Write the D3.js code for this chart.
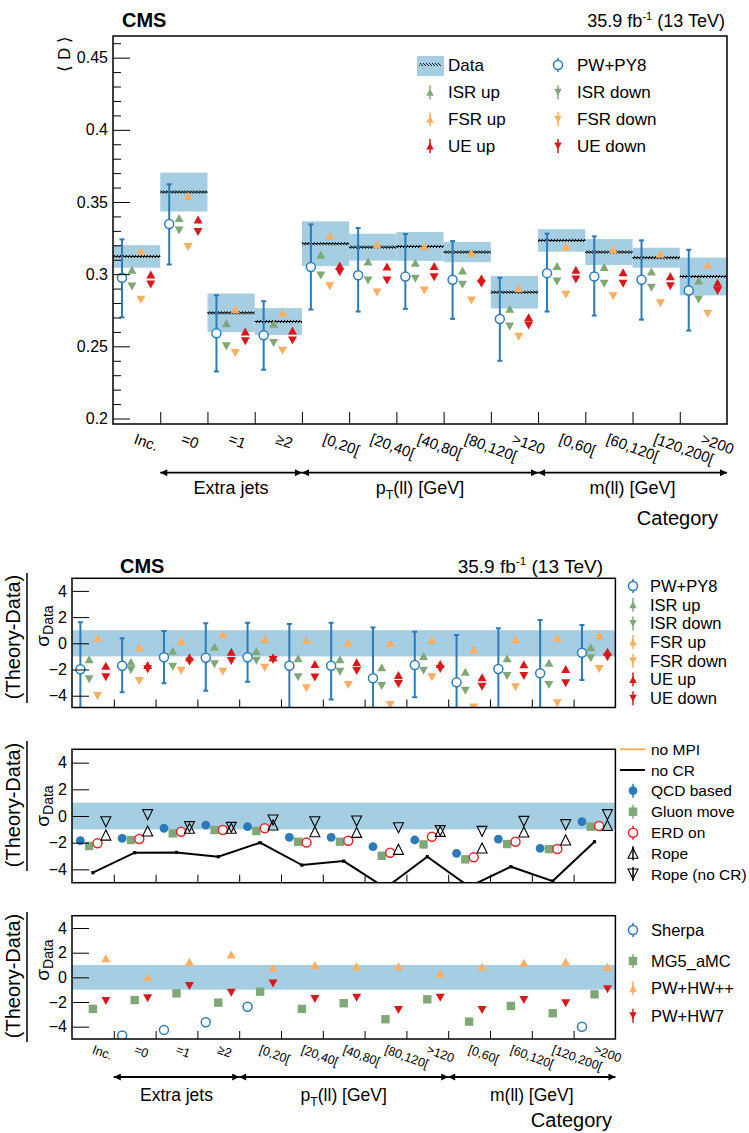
<!DOCTYPE html>
<html><head><meta charset="utf-8">
<script src="https://cdn.jsdelivr.net/npm/d3@7"></script>
<style>
body{margin:0;background:#fff}
svg{display:block;font-family:"Liberation Sans",Arial,Helvetica,sans-serif}
</style>
</head><body>
<svg id="chart" width="749" height="1133"></svg>
<script>
// ---------------- DATA ----------------
const categories = ["Inc.","=0","=1","≥2","[0,20[","[20,40[","[40,80[","[80,120[",">120","[0,60[","[60,120[","[120,200[",">200"];
const groupNames = ["Extra jets","pT(ll) [GeV]","m(ll) [GeV]"];
const groupFirst = [1,4,9];
const groupLast = [3,8,12];
const topTicks = [0.2,0.25,0.3,0.35,0.4,0.45];
const ratioTicks = [-4,-2,0,2,4];

// top panel: <D>
const dataMean = [0.3123,0.3569,0.2732,0.2672,0.3211,0.3187,0.3192,0.3153,0.2875,0.3234,0.3153,0.3114,0.2984];
const dataErr  = [0.0078,0.0135,0.0134,0.0093,0.0155,0.0093,0.0100,0.0070,0.0113,0.0078,0.0090,0.0069,0.0131];
const pwpy8    = [0.2975,0.3347,0.2590,0.2576,0.3049,0.2993,0.2983,0.2961,0.2690,0.3007,0.2984,0.2961,0.2887];
const pwpy8Lo  = [0.2701,0.3067,0.2326,0.2338,0.2755,0.2741,0.2760,0.2690,0.2400,0.2741,0.2713,0.2685,0.2609];
const pwpy8Hi  = [0.3241,0.3623,0.2854,0.2813,0.3345,0.3320,0.3278,0.3229,0.2975,0.3281,0.3262,0.3234,0.3169];
const isrUp    = [0.3031,0.3389,0.2660,0.2656,0.3135,0.3088,0.3079,0.3026,0.2760,0.3056,0.3049,0.3019,0.2956];
const isrDown  = [0.2915,0.3303,0.2500,0.2524,0.2991,0.2956,0.2968,0.2926,0.2637,0.2949,0.2933,0.2906,0.2824];
const fsrUp    = [0.3160,0.3542,0.2757,0.2732,0.3264,0.3206,0.3195,0.3149,0.2903,0.3192,0.3172,0.3142,0.3065];
const fsrDown  = [0.2822,0.3188,0.2454,0.2470,0.2917,0.2873,0.2887,0.2817,0.2567,0.2857,0.2847,0.2799,0.2725];
const ueUp     = [0.2998,0.3378,0.2602,0.2609,0.3060,0.3053,0.3056,0.2972,0.2701,0.3031,0.3014,0.2986,0.2940];
const ueDown   = [0.2928,0.3292,0.2535,0.2540,0.3014,0.2956,0.2979,0.2933,0.2644,0.2963,0.2933,0.2917,0.2884];

// ratio panel 1: (Theory-Data)/sigma
const r1Pw      = [-1.98,-1.71,-1.07,-1.10,-1.07,-1.71,-1.71,-2.67,-1.66,-2.98,-1.96,-2.29,-0.72];
const r1PwHi    = [1.60,0.38,0.94,1.53,1.57,1.47,1.57,1.20,0.89,0.63,1.15,1.78,1.40];
const r1PwLo    = [-5.56,-3.74,-3.05,-3.62,-2.93,-5.20,-4.28,-6.50,-4.12,-6.60,-5.30,-6.40,-2.80];
const r1IsrUp   = [-1.22,-1.40,-0.56,-0.26,-0.59,-1.15,-1.22,-1.83,-0.97,-2.17,-1.15,-1.48,-0.31];
const r1IsrDown = [-2.75,-2.04,-1.79,-1.60,-1.33,-2.60,-2.17,-3.26,-2.09,-3.62,-2.50,-3.18,-1.15];
const r1FsrUp   = [0.43,-0.31,0.18,0.69,0.33,0.25,0.05,0.05,0.25,-0.46,0.31,0.43,0.63];
const r1FsrDown = [-4.02,-2.88,-2.09,-2.17,-1.86,-3.44,-3.18,-4.70,-2.60,-4.90,-3.36,-4.58,-1.96];
const r1UeUp    = [-1.71,-1.66,-1.07,-0.64,-1.07,-1.58,-1.45,-2.42,-1.58,-2.60,-1.60,-1.96,-0.64];
const r1UeDown  = [-2.60,-1.98,-1.40,-1.35,-1.27,-2.62,-2.12,-3.10,-1.96,-3.31,-2.50,-3.05,-1.07];

// ratio panel 2: colour reconnection models
const r2Qcd      = [-1.85,-1.67,-0.92,-0.68,-0.80,-1.60,-1.60,-2.30,-1.80,-2.80,-1.73,-2.42,-0.43];
const r2Gluon    = [-2.25,-1.80,-1.30,-1.05,-1.13,-1.93,-1.93,-2.98,-2.13,-3.25,-2.10,-2.48,-0.80];
const r2Erd      = [-2.05,-1.73,-1.18,-1.05,-0.92,-1.98,-1.85,-2.75,-1.55,-3.10,-1.93,-2.48,-0.75];
const r2Rope     = [-1.43,-1.13,-0.92,-0.92,-0.68,-1.18,-1.23,-2.50,-1.15,-2.40,-1.20,-1.80,-0.70];
const r2RopeNoCR = [-0.43,0.10,-0.80,-0.85,-0.30,-0.43,-0.38,-0.88,-1.10,-1.15,-0.40,-0.65,0.10];
const r2NoCR     = [-4.25,-2.75,-2.73,-3.05,-2.00,-3.68,-3.38,-5.40,-3.05,-5.30,-3.80,-4.88,-1.93];

// ratio panel 3: other generators (null = off scale)
const r3Sherpa = [null,-4.72,-4.26,-3.64,-2.38,null,null,null,null,null,null,null,-4.00];
const r3Mg5    = [-2.56,-1.84,-1.30,-2.05,-1.16,-2.56,-2.10,-3.40,-1.78,-3.59,-2.32,-2.91,-1.38];
const r3Hwpp   = [1.54,0.05,1.26,1.86,0.78,1.00,0.91,0.91,0.32,0.86,1.18,1.26,0.86];
const r3Hw7    = [-1.92,-1.70,-0.70,-1.24,-0.49,-1.76,-1.65,-2.65,-1.65,-2.65,-1.84,-2.10,-0.97];

// ---------------- STYLE ----------------
const col = {blue:"#2b7bba", box:"#a6cee3", green:"#80a877", orange:"#fdae61", red:"#d7191c", erd:"#e3262a"};
const svg = d3.select("#chart");
const defs = svg.append("defs");
const hp = defs.append("pattern").attr("id","hatch").attr("patternUnits","userSpaceOnUse").attr("width",3).attr("height",3);
hp.append("path").attr("d","M0,0L3,3M-1,2L1,4M2,-1L4,1").attr("stroke","#000").attr("stroke-width",0.9);
defs.append("marker").attr("id","arr").attr("viewBox","0 0 10 10").attr("refX",10).attr("refY",5)
  .attr("markerWidth",9).attr("markerHeight",7).attr("markerUnits","userSpaceOnUse")
  .attr("orient","auto-start-reverse").append("path").attr("d","M0,0L10,5L0,10Z").attr("fill","#000");

function triPath(w,h,up){
  return up ? `M${-w/2},${h/2}L${w/2},${h/2}L0,${-h/2}Z` : `M${-w/2},${-h/2}L${w/2},${-h/2}L0,${h/2}Z`;
}
function drawMark(g,type,x,y,c){
  if(type==="up"||type==="down"){
    g.append("path").attr("transform",`translate(${x},${y})`).attr("d",triPath(9,8,type==="up")).attr("fill",c);
  } else if(type==="oup"||type==="odown"){
    g.append("path").attr("transform",`translate(${x},${y})`).attr("d",triPath(10,10,type==="oup")).attr("fill","none").attr("stroke",c).attr("stroke-width",1.1);
  } else if(type==="open"){
    g.append("circle").attr("cx",x).attr("cy",y).attr("r",4.5).attr("fill","#fff").attr("stroke",c).attr("stroke-width",1.5);
  } else if(type==="dot"){
    g.append("circle").attr("cx",x).attr("cy",y).attr("r",4.4).attr("fill",c);
  } else if(type==="sq"){
    g.append("rect").attr("x",x-4.2).attr("y",y-4.2).attr("width",8.4).attr("height",8.4).attr("fill",c);
  }
}
function series(g,xs,ys,vals,frac,type,c){
  const bw = xs.bandwidth();
  vals.forEach((v,i)=>{ if(v===null) return; drawMark(g,type,xs(categories[i])+frac*bw,ys(v),c); });
}
function errBars(g,xs,ys,lo,hi,frac,c){
  const bw = xs.bandwidth();
  categories.forEach((cat,i)=>{
    const x = xs(cat)+frac*bw;
    g.append("line").attr("x1",x).attr("x2",x).attr("y1",ys(lo[i])).attr("y2",ys(hi[i])).attr("stroke",c).attr("stroke-width",2);
    [lo[i],hi[i]].forEach(v=>g.append("line").attr("x1",x-2.5).attr("x2",x+2.5).attr("y1",ys(v)).attr("y2",ys(v)).attr("stroke",c).attr("stroke-width",2));
  });
}
function lumi(x,y,size){
  const t = svg.append("text").attr("x",x).attr("y",y).attr("text-anchor","end").attr("font-size",size);
  t.append("tspan").text("35.9 fb");
  t.append("tspan").attr("dy",-size*0.4).attr("font-size",size*0.62).text("-1");
  t.append("tspan").attr("dy",size*0.4).text(" (13 TeV)");
}
function cms(x,y,size){ svg.append("text").attr("x",x).attr("y",y).attr("font-size",size).attr("font-weight","bold").text("CMS"); }
function legendItem(g,x,tx,y,type,c,label,size,bar){
  if(bar) g.append("line").attr("x1",x).attr("x2",x).attr("y1",y-7).attr("y2",y+7).attr("stroke",c).attr("stroke-width",1.5);
  if(type==="line") g.append("line").attr("x1",x-13).attr("x2",x+12).attr("y1",y).attr("y2",y).attr("stroke",c).attr("stroke-width",2);
  else if(type==="up"||type==="down"){ g.append("path").attr("transform",`translate(${x},${y})`).attr("d",triPath(7.5,7,type==="up")).attr("fill",c); }
  else drawMark(g,type,x,y,c);
  g.append("text").attr("x",tx).attr("y",y+size*0.36).attr("font-size",size).text(label);
}
function catLabels(g,xs,yb,size,dx){
  const bw = xs.bandwidth();
  g.selectAll(null).data(categories).join("text")
    .attr("transform",d=>`translate(${xs(d)+bw/2+dx},${yb}) rotate(20)`)
    .attr("font-size",size).text(d=>d);
}
function groups(g,xs,yArrow,yText,size){
  const bw = xs.bandwidth();
  groupNames.forEach((name,k)=>{
    const x0 = xs(categories[groupFirst[k]]), x1 = xs(categories[groupLast[k]])+bw;
    g.append("line").attr("x1",x0).attr("x2",x1).attr("y1",yArrow).attr("y2",yArrow)
      .attr("stroke","#000").attr("stroke-width",1.8).attr("marker-start","url(#arr)").attr("marker-end","url(#arr)");
    const t = g.append("text").attr("x",(x0+x1)/2).attr("y",yText).attr("text-anchor","middle").attr("font-size",size);
    if(name.startsWith("pT")){
      t.append("tspan").text("p");
      t.append("tspan").attr("dy",size*0.3).attr("font-size",size*0.7).text("T");
      t.append("tspan").attr("dy",-size*0.3).text(name.slice(2));
    } else t.text(name);
  });
}

// ---------------- TOP PANEL ----------------
const T = {l:113, r:727, t:36, b:424};
const xT = d3.scaleBand().domain(categories).range([T.l,T.r]);
const yT = d3.scaleLinear().domain([0.1962,0.465]).range([T.b,T.t]);
const bwT = xT.bandwidth();
const gT = svg.append("g");
gT.selectAll(".dbox").data(categories).join("rect").attr("class","dbox")
  .attr("x",d=>xT(d)).attr("width",bwT)
  .attr("y",(d,i)=>yT(dataMean[i]+dataErr[i]))
  .attr("height",(d,i)=>yT(dataMean[i]-dataErr[i])-yT(dataMean[i]+dataErr[i]))
  .attr("fill",col.box);
gT.selectAll(".dh").data(categories).join("rect").attr("class","dh")
  .attr("x",d=>xT(d)).attr("width",bwT).attr("y",(d,i)=>yT(dataMean[i])-1.6).attr("height",3.2).attr("fill","url(#hatch)");
gT.selectAll(".dl").data(categories).join("line").attr("class","dl")
  .attr("x1",d=>xT(d)).attr("x2",d=>xT(d)+bwT).attr("y1",(d,i)=>yT(dataMean[i])).attr("y2",(d,i)=>yT(dataMean[i]))
  .attr("stroke","#000").attr("stroke-width",1);
errBars(gT,xT,yT,pwpy8Lo,pwpy8Hi,0.19,col.blue);
series(gT,xT,yT,pwpy8,0.19,"open",col.blue);
series(gT,xT,yT,isrUp,0.40,"up",col.green);
series(gT,xT,yT,isrDown,0.40,"down",col.green);
series(gT,xT,yT,fsrUp,0.59,"up",col.orange);
series(gT,xT,yT,fsrDown,0.59,"down",col.orange);
series(gT,xT,yT,ueUp,0.80,"up",col.red);
series(gT,xT,yT,ueDown,0.80,"down",col.red);

gT.append("g").attr("transform",`translate(${T.l},0)`)
  .call(d3.axisLeft(yT).tickValues(topTicks).tickSize(-17).tickPadding(5).tickFormat(d3.format("~g")))
  .call(g=>g.select(".domain").remove()).attr("font-size",16).attr("font-family",null);
const minorTop = d3.range(20,47).map(d=>d/100).filter(v=>!topTicks.some(t=>Math.abs(t-v)<1e-6));
gT.append("g").attr("transform",`translate(${T.l},0)`)
  .call(d3.axisLeft(yT).tickValues(minorTop).tickSize(-8).tickFormat(""))
  .call(g=>g.select(".domain").remove());
const xIdxT = d3.scaleLinear().domain([0,categories.length]).range([T.l,T.r]);
gT.append("g").attr("transform",`translate(0,${T.b})`)
  .call(d3.axisBottom(xIdxT).tickValues(d3.range(1,categories.length)).tickSize(-12).tickFormat(""))
  .call(g=>g.select(".domain").remove());
gT.append("rect").attr("x",T.l).attr("y",T.t).attr("width",T.r-T.l).attr("height",T.b-T.t).attr("fill","none").attr("stroke","#000").attr("stroke-width",1.5);
catLabels(gT,xT,T.b+19,15,-3.5);
groups(gT,xT,472.7,494,18);
gT.append("text").attr("x",718).attr("y",525).attr("text-anchor","end").attr("font-size",20).text("Category");
gT.append("text").attr("transform",`translate(70,36) rotate(-90)`).attr("text-anchor","end").attr("font-size",17).text("⟨ D ⟩");
cms(122,27,20);
lumi(725,27,18);

// top legend
const gL = svg.append("g");
gL.append("rect").attr("x",417).attr("y",56).attr("width",27).attr("height",20).attr("fill",col.box);
gL.append("rect").attr("x",419).attr("y",63).attr("width",22).attr("height",3).attr("fill","url(#hatch)");
gL.append("text").attr("x",448).attr("y",71).attr("font-size",17).text("Data");
legendItem(gL,558,577,65,"open",col.blue,"PW+PY8",17,true);
legendItem(gL,430,448,92.3,"up",col.green,"ISR up",17,true);
legendItem(gL,558,577,92.3,"down",col.green,"ISR down",17,true);
legendItem(gL,430,448,119.3,"up",col.orange,"FSR up",17,true);
legendItem(gL,558,577,119.3,"down",col.orange,"FSR down",17,true);
legendItem(gL,430,448,146,"up",col.red,"UE up",17,true);
legendItem(gL,558,577,146,"down",col.red,"UE down",17,true);

// ---------------- RATIO PANELS ----------------
const RX = {l:72, r:615.4};
const xR = d3.scaleBand().domain(categories).range([RX.l,RX.r]);
const xIdxR = d3.scaleLinear().domain([0,categories.length]).range([RX.l,RX.r]);
const panels = [
  {t:578.3, b:707.5, dom:[-4.9,4.96], lab:637, sig:626},
  {t:749.3, b:882.7, dom:[-5,5], lab:805, sig:806},
  {t:915.7, b:1039,  dom:[-5,5], lab:976, sig:960}
];
function ratioPanel(p,id){
  const y = d3.scaleLinear().domain(p.dom).range([p.b,p.t]);
  const g = svg.append("g");
  defs.append("clipPath").attr("id","clip"+id).append("rect").attr("x",RX.l).attr("y",p.t).attr("width",RX.r-RX.l).attr("height",p.b-p.t);
  g.append("rect").attr("x",RX.l).attr("width",RX.r-RX.l).attr("y",y(1)).attr("height",y(-1)-y(1)).attr("fill",col.box);
  const inner = g.append("g").attr("clip-path",`url(#clip${id})`);
  g.append("text").attr("transform",`translate(20,${p.lab}) rotate(-90)`).attr("text-anchor","middle").attr("font-size",20).text("(Theory-Data)");
  g.append("line").attr("x1",27).attr("x2",27).attr("y1",p.lab-64).attr("y2",p.lab+66).attr("stroke","#000").attr("stroke-width",1.5);
  const s = g.append("text").attr("transform",`translate(49,${p.sig}) rotate(-90)`).attr("text-anchor","middle").attr("font-size",19);
  s.append("tspan").text("σ");
  s.append("tspan").attr("dy",4).attr("font-size",14).text("Data");
  return {g,inner,y,p};
}
function ratioAxes(P){
  const {g,y,p} = P;
  g.append("g").attr("transform",`translate(${RX.l},0)`)
    .call(d3.axisLeft(y).tickValues(ratioTicks).tickSize(-17).tickPadding(5).tickFormat(d3.format("d")))
    .call(gg=>gg.select(".domain").remove()).attr("font-size",16).attr("font-family",null);
  g.append("g").attr("transform",`translate(0,${p.b})`)
    .call(d3.axisBottom(xIdxR).tickValues(d3.range(1,categories.length)).tickSize(-8).tickFormat(""))
    .call(gg=>gg.select(".domain").remove());
  g.append("rect").attr("x",RX.l).attr("y",p.t).attr("width",RX.r-RX.l).attr("height",p.b-p.t).attr("fill","none").attr("stroke","#000").attr("stroke-width",1.5);
}

// panel 1
const P1 = ratioPanel(panels[0],1);
errBars(P1.inner,xR,P1.y,r1PwLo,r1PwHi,0.2,col.blue);
series(P1.inner,xR,P1.y,r1Pw,0.2,"open",col.blue);
series(P1.inner,xR,P1.y,r1IsrUp,0.41,"up",col.green);
series(P1.inner,xR,P1.y,r1IsrDown,0.41,"down",col.green);
series(P1.inner,xR,P1.y,r1FsrUp,0.61,"up",col.orange);
series(P1.inner,xR,P1.y,r1FsrDown,0.61,"down",col.orange);
series(P1.inner,xR,P1.y,r1UeUp,0.81,"up",col.red);
series(P1.inner,xR,P1.y,r1UeDown,0.81,"down",col.red);
ratioAxes(P1);
cms(120,573,20);
lumi(603,573,19);
const l1 = svg.append("g");
[["open",col.blue,"PW+PY8"],["up",col.green,"ISR up"],["down",col.green,"ISR down"],["up",col.orange,"FSR up"],
 ["down",col.orange,"FSR down"],["up",col.red,"UE up"],["down",col.red,"UE down"]].forEach((d,i)=>
  legendItem(l1,633,650,586+i*18.7,d[0],d[1],d[2],16.5,true));

// panel 2
const P2 = ratioPanel(panels[1],2);
P2.inner.append("path").datum(r2NoCR)
  .attr("d",d3.line().x((v,i)=>xR(categories[i])+xR.bandwidth()/2).y(v=>P2.y(v)))
  .attr("fill","none").attr("stroke","#000").attr("stroke-width",2);
r2NoCR.forEach((v,i)=>P2.inner.append("rect").attr("x",xR(categories[i])+xR.bandwidth()/2-1.6).attr("y",P2.y(v)-1.6).attr("width",3.2).attr("height",3.2).attr("fill","#000"));
series(P2.inner,xR,P2.y,r2Qcd,0.2,"dot",col.blue);
series(P2.inner,xR,P2.y,r2Gluon,0.41,"sq",col.green);
series(P2.inner,xR,P2.y,r2Erd,0.61,"open",col.erd);
series(P2.inner,xR,P2.y,r2Rope,0.81,"oup","#000");
series(P2.inner,xR,P2.y,r2RopeNoCR,0.81,"odown","#000");
ratioAxes(P2);
const l2 = svg.append("g");
legendItem(l2,633,651,749.3,"line",col.orange,"no MPI",15.5,false);
legendItem(l2,633,651,770,"line","#000","no CR",15.5,false);
legendItem(l2,633,651,790.7,"dot",col.blue,"QCD based",15.5,true);
legendItem(l2,633,651,811.7,"sq",col.green,"Gluon move",15.5,true);
legendItem(l2,633,651,832.7,"open",col.erd,"ERD on",15.5,true);
legendItem(l2,633,651,853.3,"oup","#000","Rope",15.5,true);
legendItem(l2,633,651,874,"odown","#000","Rope (no CR)",15.5,true);

// panel 3
const P3 = ratioPanel(panels[2],3);
series(P3.inner,xR,P3.y,r3Sherpa,0.2,"open",col.blue);
series(P3.inner,xR,P3.y,r3Mg5,0.5,"sq",col.green);
series(P3.inner,xR,P3.y,r3Hwpp,0.81,"up",col.orange);
series(P3.inner,xR,P3.y,r3Hw7,0.81,"down",col.red);
ratioAxes(P3);
const l3 = svg.append("g");
legendItem(l3,633,651,930,"open",col.blue,"Sherpa",16.5,true);
legendItem(l3,633,651,961,"sq",col.green,"MG5_aMC",16.5,true);
legendItem(l3,633,651,988.3,"up",col.orange,"PW+HW++",16.5,true);
legendItem(l3,633,651,1015.7,"down",col.red,"PW+HW7",16.5,true);

const gB = svg.append("g");
catLabels(gB,xR,1053,12.5,-1.5);
groups(gB,xR,1077,1101,17.5);
gB.append("text").attr("x",612).attr("y",1127).attr("text-anchor","end").attr("font-size",20).text("Category");
</script>
</body></html>
